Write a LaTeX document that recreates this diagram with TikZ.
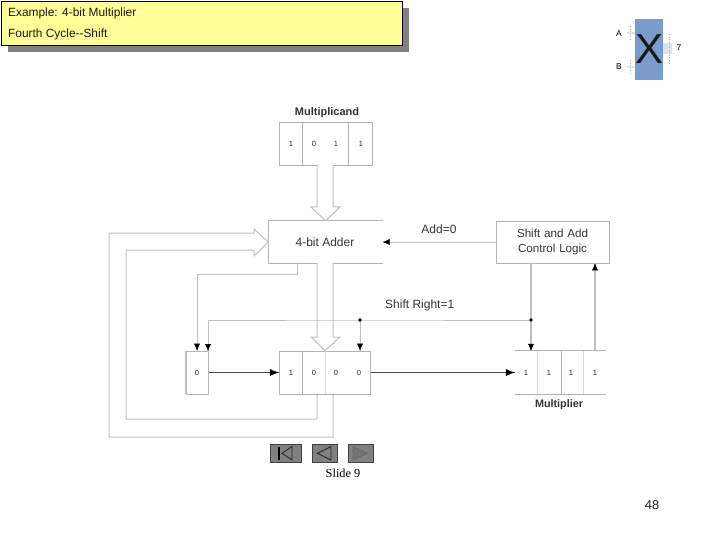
\documentclass[tikz,border=0pt]{standalone}
\usepackage{fontspec}
\setmainfont{Liberation Sans}
\newfontfamily\serifo{Liberation Serif}
\usetikzlibrary{arrows.meta,calc}
\definecolor{wire}{HTML}{C0C0C0}
\definecolor{boxline}{HTML}{B4B4B4}
\definecolor{titlefill}{HTML}{FFFF99}
\definecolor{logoblue}{HTML}{7A9BCB}
\definecolor{navgray}{HTML}{808080}
\definecolor{stubc}{HTML}{DDE3F0}
\tikzset{
  x=1pt,y=-1pt,
  box/.style={draw=boxline,line width=.8pt,inner sep=0pt},
  openbox/.style={inner sep=0pt},
  divider/.style={draw=boxline,line width=.8pt},
  digit/.style={font=\fontsize{7.5}{8}\selectfont,text=black!85,inner sep=0pt},
  lbl/.style={font=\fontsize{12}{14}\selectfont,text=black!80,inner sep=0pt,align=center},
  wirec/.style={draw=wire,line width=1pt},
  wirethick/.style={draw=wire,line width=1.8pt},
  sigtip/.style={color=black,tips=true,-{Latex[length=7pt,width=6pt]}},
  heavysig/.style={draw=black!70,line width=1.5pt},
  heavytip/.style={color=black,tips=true,-{Latex[length=9pt,width=7pt]}},
  bus/.style={draw=wire,line width=1pt,fill=white,line join=miter},
  navbtn/.style={draw=black!75,fill=navgray,line width=.9pt,inner sep=0pt},
  titletext/.style={font=\fontsize{11.9}{14}\selectfont,inner sep=0pt,anchor=base west,text=black!90},
  dot/.style={circle,fill=black,inner sep=0pt,minimum size=3.8pt},
  stub/.style={draw=stubc,line width=2pt},
  stubdash/.style={draw=black!30,line width=.6pt,dotted}
}
\begin{document}
\begin{tikzpicture}
\useasboundingbox (0,0) rectangle (720,540);
% title
\fill[navgray] (8,8) rectangle (409,52);
\node[draw=black,fill=titlefill,line width=.9pt,minimum width=401pt,minimum height=44pt,inner sep=0pt] (title) at (201.5,23) {};
\node[titletext] (t1) at (8,17) {Example: 4-bit Multiplier};
\node[titletext] (t2) at (8,38) {Fourth Cycle-{}-Shift};
% logo
\node[fill=logoblue,minimum width=28pt,minimum height=61pt,inner sep=0pt] (logo) at (649,49.5) {};
\node[font=\fontsize{42}{42}\selectfont,text=black!90,inner sep=0pt] (logox) at (649,49) {X};
\node[font=\fontsize{8.5}{9}\selectfont,inner sep=0pt] (la) at (619,34) {A};
\node[font=\fontsize{8.5}{9}\selectfont,inner sep=0pt] (lb) at (619,67) {B};
\node[font=\fontsize{8.5}{9}\selectfont,inner sep=0pt] (l7) at (679,48) {7};
\coordinate (sa) at (627,33); \coordinate (sb) at (627,67); \coordinate (s7) at (672,49);
\draw[stub] (sa) -- (logo.west |- sa);
\draw[stub] (sb) -- (logo.west |- sb);
\draw[stub,line width=11pt] (s7) -- (logo.east |- s7);
\draw[stubdash] (630.5,26) -- (630.5,41);
\draw[stubdash] (630.5,60) -- (630.5,74);
\draw[stubdash] (669,34) -- (669,64);
% multiplicand
\node[box,minimum width=93pt,minimum height=43pt] (mcand) at (325.5,143.5) {};
\draw[divider] (302,122) -- (302,165);
\draw[divider] (348,122) -- (348,165);
\node[digit] (m1) at (291,143.5) {1};
\node[digit] (m2) at (314,143.5) {0};
\node[digit] (m3) at (336,143.5) {1};
\node[digit] (m4) at (361,143.5) {1};
\node[lbl,font=\fontsize{11}{13}\selectfont\bfseries] (mcandl) at (327,112.5) {Multiplicand};
% adder (open on the right)
\node[openbox,minimum width=114pt,minimum height=42pt] (add) at (325.5,242) {};
\draw[divider] (add.north east) -- (add.north west) -- (add.south west) -- (add.south east);
\node[lbl] (addl) at (325,242) {4-bit Adder};
% control
\node[box,minimum width=113pt,minimum height=42pt] (ctrl) at (552.5,242) {};
\node[lbl,text width=113pt,font=\fontsize{11.6}{14.5}\selectfont] (ctrll) at (552.5,242) {Shift and Add\\Control Logic};
% lone register
\node[box,minimum width=22.5pt,minimum height=43pt] (lone) at (197.25,372.5) {};
\draw[draw=black!25,line width=1.2pt] (186,351) -- (186,394);
\node[digit] (l0) at (197,372.5) {0};
% product register
\node[box,minimum width=91.5pt,minimum height=43pt] (prod) at (325,372.5) {};
\draw[divider] (302,351) -- (302,394);
\draw[draw=black!12,line width=.8pt] (325.5,351) -- (325.5,394);
\node[digit] (p1) at (291,372.5) {1};
\node[digit] (p2) at (314,372.5) {0};
\node[digit] (p3) at (336,372.5) {0};
\node[digit] (p4) at (359,372.5) {0};
% multiplier (top and bottom rules)
\node[openbox,minimum width=91pt,minimum height=43pt] (mplier) at (560.5,372.5) {};
\draw[divider] (mplier.north west) -- (mplier.north east);
\draw[divider] (mplier.south west) -- (mplier.south east);
\draw[draw=black!15,line width=.8pt] (537,351) -- (537,394);
\draw[divider] (561,351) -- (561,394);
\draw[draw=black!15,line width=.8pt] (583,351) -- (583,394);
\node[digit] (q1) at (526,372.5) {1};
\node[digit] (q2) at (549,372.5) {1};
\node[digit] (q3) at (571,372.5) {1};
\node[digit] (q4) at (595,372.5) {1};
\node[lbl,font=\fontsize{10.8}{13}\selectfont\bfseries] (mplierl) at (559,405) {Multiplier};
% hollow buses
\draw[bus] (317,165) -- (317,207) -- (311,207) -- (add.north) -- (340,207) -- (333,207) -- (333,165);
\draw[bus] (317,263) -- (317,337) -- (311,337) -- (prod.north) -- (340,337) -- (333,337) -- (333,263);
\draw[bus,fill=none] (317,394) -- (317,419) -- (126,419) -- (126,250) -- (254,250) -- (254,256) -- (add.west) -- (254,229) -- (254,233) -- (109,233) -- (109,437) -- (333,437) -- (333,394);
% control wires
\coordinate (addtap) at (297,263);
\coordinate (c1) at (297,274);
\coordinate (c2) at (197,274);
\coordinate (jl) at (360,320);
\coordinate (jr) at (531,320);
\coordinate (c3) at (208,320);
\coordinate (c4) at (208,351);
\coordinate (qtap) at (595,351);
\draw[wirec] (addtap) -- (c1) -- (c2) -- (c2 |- lone.north);
\draw[wirec] (jr) -- (jl) -- (c3) -- (c4);
\draw[wirec] (jl) -- (jl |- prod.north);
\draw[wirethick] (jr |- ctrl.south) -- (jr) -- (jr |- mplier.north);
\draw[wirec] (ctrl.west) -- (add.east);
\draw[wirethick] (qtap) -- (qtap |- ctrl.south);
\draw[heavysig] (lone.east) -- (prod.west);
\draw[heavysig] (prod.east) -- (mplier.west);
\node[dot] (d1) at (jl) {};
\node[dot] (d2) at (jr) {};
\node[lbl] (addeq) at (439,229) {Add=0};
\node[lbl,anchor=west] (shr) at (385,305) {Shift Right=1};
% nav buttons
\node[navbtn,minimum width=31pt,minimum height=18.5pt] (b1) at (285.5,453.3) {};
\node[navbtn,minimum width=25pt,minimum height=18.5pt] (b2) at (324.5,453.3) {};
\node[navbtn,minimum width=25pt,minimum height=18.5pt] (b3) at (360.5,453.3) {};
\draw[black,line width=1.2pt] (279,446.5) -- (279,460);
\draw[black!85,line width=.9pt] (292,446.5) -- (282,453.3) -- (292,460) -- cycle;
\draw[black!85,line width=.9pt] (331,446.5) -- (317.5,453.3) -- (331,460) -- cycle;
\draw[black!60,fill=black!55,line width=.9pt] (353,446.5) -- (367,453.3) -- (353,460) -- cycle;
\node[font=\serifo\fontsize{12.3}{14}\selectfont,inner sep=0pt] (slide) at (343,473) {Slide 9};
\node[font=\fontsize{12.8}{15}\selectfont,inner sep=0pt,text=black!85] (pg) at (652,505) {48};
% arrowheads: short final pieces only
\path[sigtip] ($(c2 |- lone.north)+(0,-7)$) -- (c2 |- lone.north);
\path[sigtip] ($(c4)+(0,-7)$) -- (c4);
\path[sigtip] ($(d1 |- prod.north)+(0,-7)$) -- (d1 |- prod.north);
\path[sigtip] ($(d2 |- mplier.north)+(0,-7)$) -- (d2 |- mplier.north);
\path[sigtip] ($(add.east)+(7,0)$) -- (add.east);
\path[sigtip] ($(qtap |- ctrl.south)+(0,7)$) -- (qtap |- ctrl.south);
\path[heavytip] ($(prod.west)+(-9,0)$) -- (prod.west);
\path[heavytip] ($(mplier.west)+(-9,0)$) -- (mplier.west);
\end{tikzpicture}
\end{document}
